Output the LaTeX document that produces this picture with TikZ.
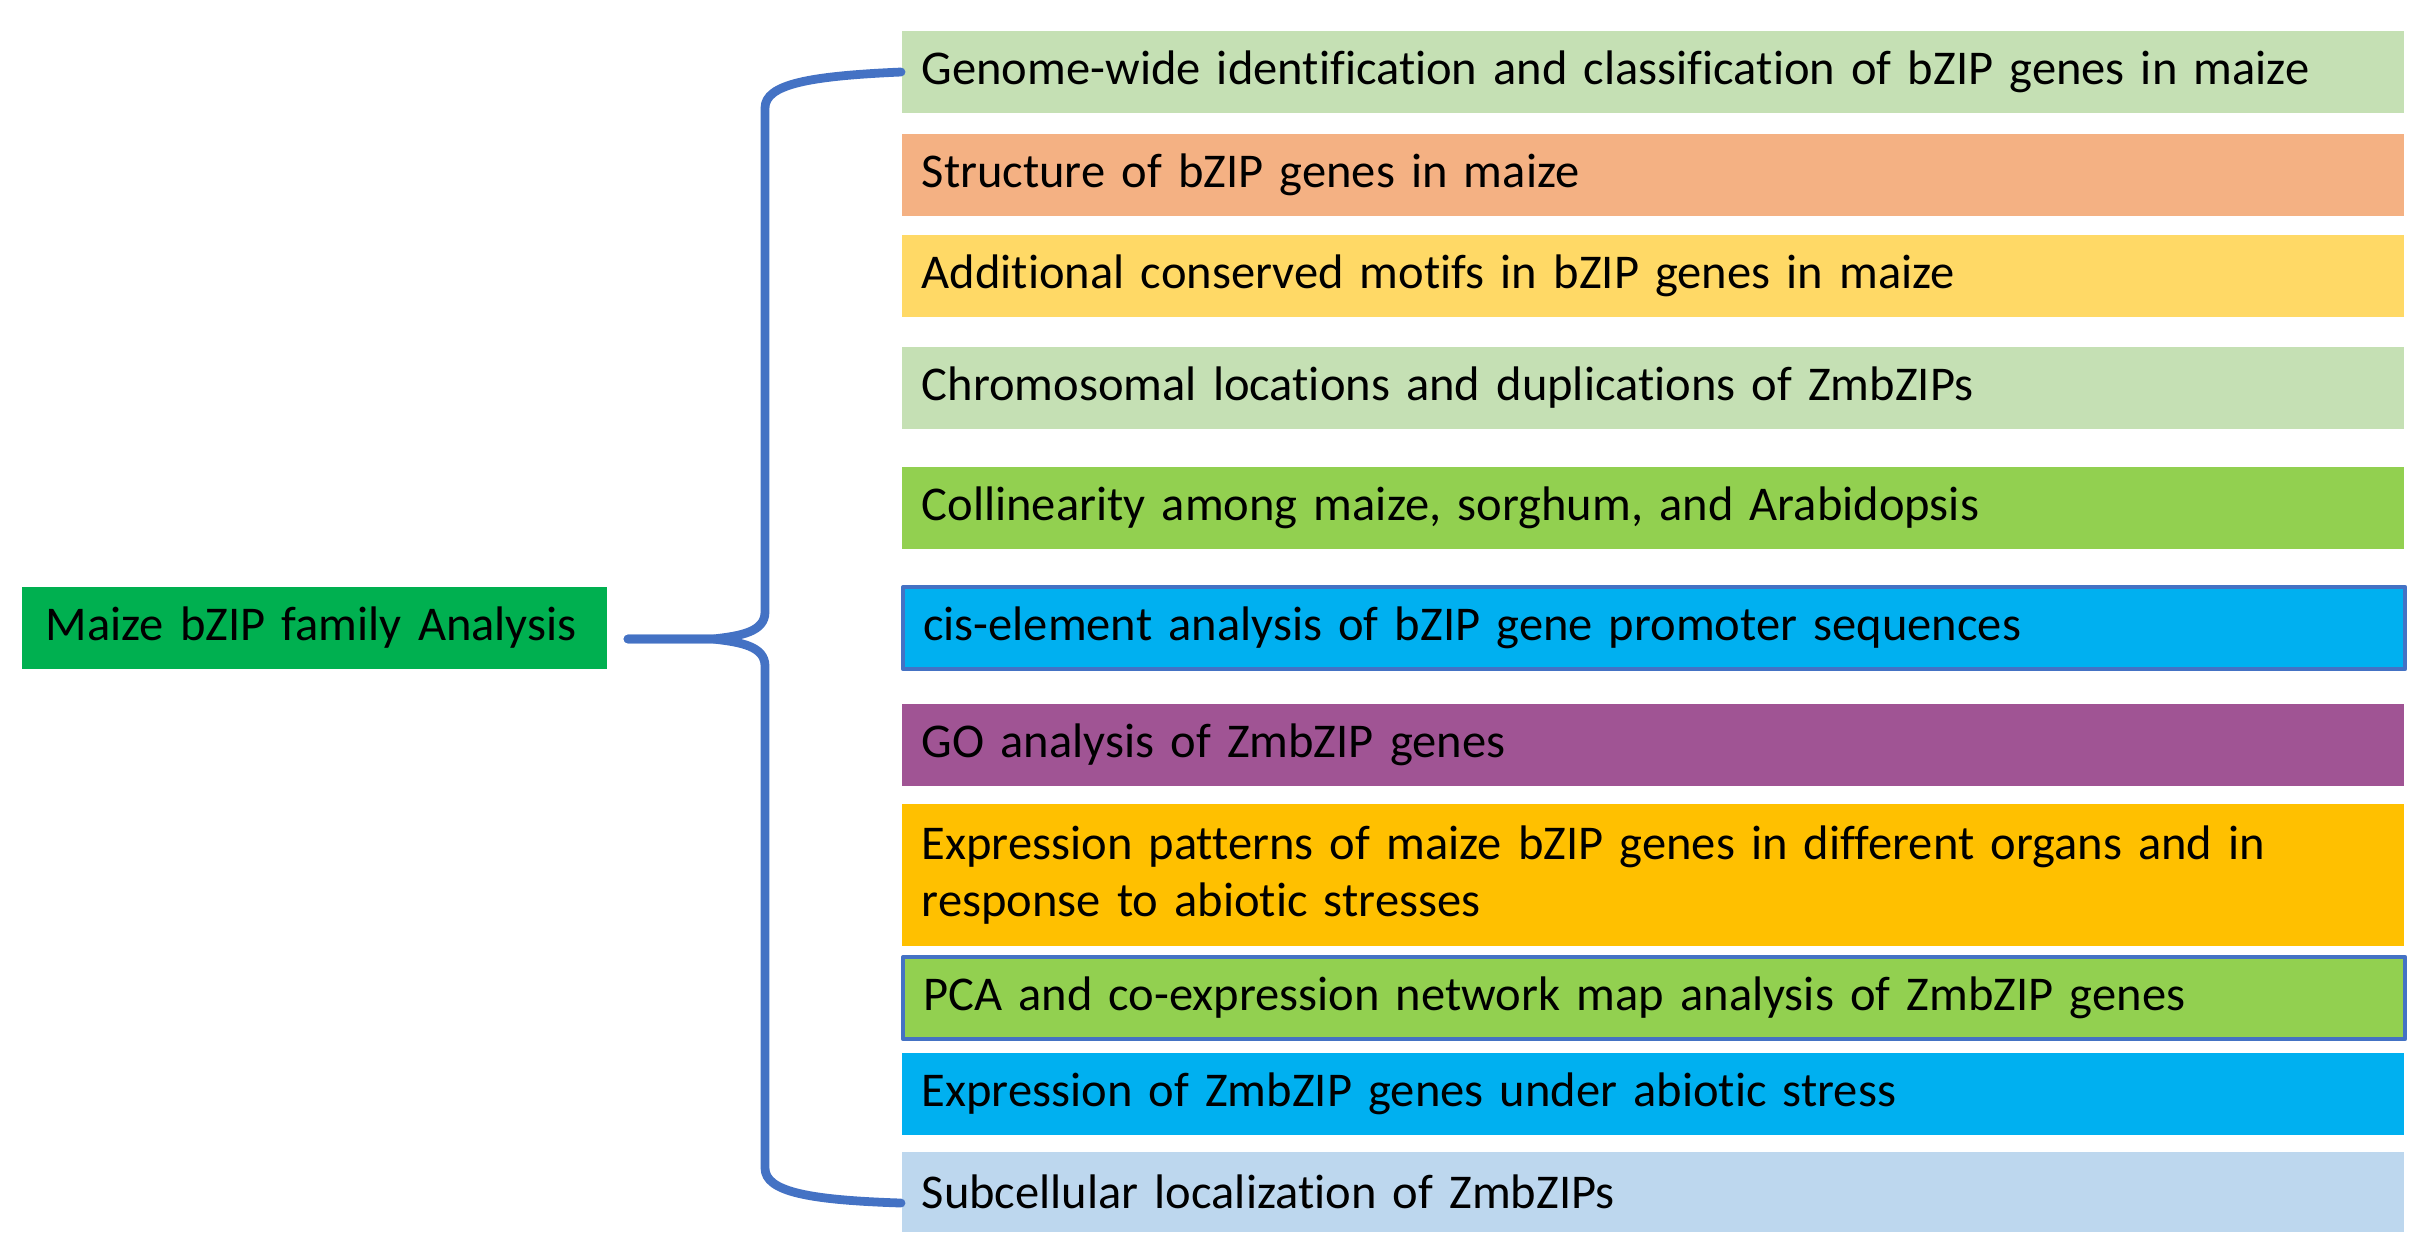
\documentclass[tikz,border=0pt]{standalone}
\usepackage{fontspec}
\setmainfont{Carlito}[Ligatures=NoCommon]
\definecolor{rootgreen}{RGB}{0,176,80}
\definecolor{palegreen}{RGB}{197,224,180}
\definecolor{salmon}{RGB}{244,177,131}
\definecolor{paleyellow}{RGB}{255,217,102}
\definecolor{leafgreen}{RGB}{146,208,80}
\definecolor{skyblue}{RGB}{0,176,240}
\definecolor{plum}{RGB}{160,84,148}
\definecolor{amber}{RGB}{255,192,0}
\definecolor{paleblue}{RGB}{189,215,238}
\definecolor{braceblue}{RGB}{68,114,196}
\begin{document}
\begin{tikzpicture}[x=0.01cm, y=-0.01cm, line cap=round, line join=round,
    topic/.style={rectangle, anchor=west, minimum width=15.01cm, minimum height=0.82cm,
      inner xsep=0.2cm, text width=14.61cm, align=left, font=\fontsize{13.8}{16.4}\selectfont},
    framed/.style={draw=braceblue, line width=1.2pt},
    brace/.style={draw=braceblue, line width=2.5pt}]
  \useasboundingbox (0,0) rectangle (2428,1250);
  % Root
  \node [rectangle, fill=rootgreen, minimum width=5.85cm, minimum height=0.82cm, inner xsep=0.24cm,
    text width=5.37cm, align=left, font=\fontsize{13.8}{16.4}\selectfont] (root) at (314.5,628) {Maize bZIP family Analysis};
  % Topics
  \node [topic, fill=palegreen] (topic-1) at (901,72) {Genome-wide identification and classification of bZIP genes in maize};
  \node [topic, fill=salmon] (topic-2) at (901,175) {Structure of bZIP genes in maize};
  \node [topic, fill=paleyellow] (topic-3) at (901,276) {Additional conserved motifs in bZIP genes in maize};
  \node [topic, fill=palegreen] (topic-4) at (901,388) {Chromosomal locations and duplications of ZmbZIPs};
  \node [topic, fill=leafgreen] (topic-5) at (901,508) {Collinearity among maize, sorghum, and Arabidopsis};
  \node [topic, fill=skyblue, framed] (topic-6) at (901,628) {cis-element analysis of bZIP gene promoter sequences};
  \node [topic, fill=plum] (topic-7) at (901,745) {GO analysis of ZmbZIP genes};
  \node [topic, fill=amber, minimum height=1.42cm] (topic-8) at (901,875) {Expression patterns of maize bZIP genes in different organs and in\\response to abiotic stresses};
  \node [topic, fill=leafgreen, framed] (topic-9) at (901,998) {PCA and co-expression network map analysis of ZmbZIP genes};
  \node [topic, fill=skyblue] (topic-10) at (901,1094) {Expression of ZmbZIP genes under abiotic stress};
  \node [topic, fill=paleblue, minimum height=0.8cm] (topic-11) at (901,1192) {Subcellular localization of ZmbZIPs};
  % Brace
  \coordinate (tip) at (628,639);
  \draw [brace] (topic-1.west) .. controls (810,76) and (765,84) .. (765,108)
    -- (765,612) .. controls (765,632) and (740,636) .. (713,639) -- (tip);
  \draw [brace] (tip) -- (713,639) .. controls (740,642) and (765,646) .. (765,666)
    -- (765,1168) .. controls (765,1192) and (810,1200) .. ([yshift=-0.11cm]topic-11.west);
\end{tikzpicture}
\end{document}
